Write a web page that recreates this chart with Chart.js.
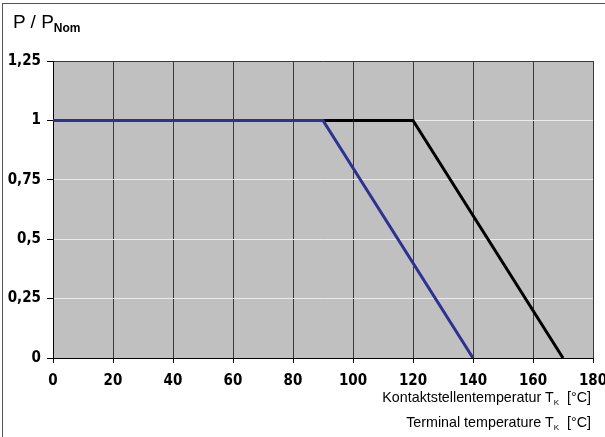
<!DOCTYPE html>
<html>
<head>
<meta charset="utf-8">
<script src="https://cdn.jsdelivr.net/npm/chart.js@4.4.0/dist/chart.umd.min.js"></script>
<style>
  html, body { margin: 0; padding: 0; background: #fff; }
  #wrap { position: relative; width: 605px; height: 437px; overflow: hidden; }
  #frame { position: absolute; left: 2px; top: 3px; width: 610px; height: 440px;
           border-top: 1px solid #555; border-left: 1px solid #555; box-sizing: border-box; }
  canvas { position: absolute; left: 0; top: 0; }
  .txt { position: absolute; font-family: "Liberation Sans", Arial, sans-serif; color: #000; white-space: nowrap; }
  #ytitle { left: 13px; top: 11px; font-size: 19px; }
  #ytitle sub { font-size: 12px; font-weight: bold; vertical-align: -4px; }
  .xtitle { right: 14px; font-size: 14.3px; }
  .xtitle sub { font-size: 8px; vertical-align: -3px; margin-right: 8px; }
  #xt1 { top: 389px; }
  #xt2 { top: 414px; }
</style>
</head>
<body>
<div id="wrap">
  <div id="frame"></div>
  <canvas id="chart" width="605" height="437"></canvas>
  <div class="txt" id="ytitle">P / P<sub>Nom</sub></div>
  <div class="txt xtitle" id="xt1">Kontaktstellentemperatur T<sub>K</sub>[°C]</div>
  <div class="txt xtitle" id="xt2">Terminal temperature T<sub>K</sub>[°C]</div>
</div>
<script>
  // derating curves: temperature (°C) vs. P / P_Nom
  const tempBlack = [0, 120, 170];
  const powerBlack = [1, 1, 0];
  const tempBlue = [0, 90, 140];
  const powerBlue = [1, 1, 0];

  const xTicks = [0, 20, 40, 60, 80, 100, 120, 140, 160, 180];
  const yTicks = [0, 0.25, 0.5, 0.75, 1, 1.25];
  const yTickLabels = ['0', '0,25', '0,5', '0,75', '1', '1,25'];

  const COLORS = {
    plotBg: '#c0c0c0',
    vGrid: '#3a3a3a',
    hGrid: '#ececec',
    blue: '#2e3190',
    black: '#000000',
  };

  const TICK_FONT = { family: '"DejaVu Sans Condensed", "Liberation Sans Narrow", Arial', size: 15, weight: 'bold' };

  const plotBackground = {
    id: 'plotBackground',
    beforeDraw(chart) {
      const { ctx, chartArea: a } = chart;
      ctx.save();
      ctx.fillStyle = COLORS.plotBg;
      ctx.fillRect(a.left, a.top, a.right - a.left, a.bottom - a.top);
      ctx.restore();
    },
  };

  function toPoints(xs, ys) {
    return xs.map((x, i) => ({ x: x, y: ys[i] }));
  }

  new Chart(document.getElementById('chart'), {
    type: 'line',
    data: {
      datasets: [
        {
          label: 'Terminal',
          data: toPoints(tempBlue, powerBlue),
          borderColor: COLORS.blue,
          borderWidth: 3,
          pointRadius: 0,
          tension: 0,
          order: 0,
        },
        {
          label: 'Contact',
          data: toPoints(tempBlack, powerBlack),
          borderColor: COLORS.black,
          borderWidth: 3,
          pointRadius: 0,
          tension: 0,
          order: 1,
        },
      ],
    },
    options: {
      responsive: false,
      animation: false,
      devicePixelRatio: 1,
      layout: { padding: { left: 0, right: 12, top: 61, bottom: 0 } },
      plugins: { legend: { display: false }, tooltip: { enabled: false } },
      scales: {
        x: {
          type: 'linear',
          min: 0,
          max: 180,
          afterBuildTicks: (axis) => { axis.ticks = xTicks.map((v) => ({ value: v })); },
          afterFit: (axis) => {
            axis.height = 79;
            axis.paddingLeft = 0;
            axis.paddingRight = 0;
          },
          border: { display: true, color: COLORS.black, width: 1 },
          grid: {
            color: (c) => (c.tick && c.tick.value === 0 ? COLORS.black : COLORS.vGrid),
            lineWidth: 1,
            tickLength: 5,
            tickColor: COLORS.black,
          },
          ticks: { color: '#000', font: TICK_FONT, padding: 9, maxRotation: 0 },
        },
        y: {
          type: 'linear',
          min: 0,
          max: 1.25,
          afterBuildTicks: (axis) => { axis.ticks = yTicks.map((v) => ({ value: v })); },
          afterFit: (axis) => {
            axis.width = 53;
            axis.paddingTop = 0;
            axis.paddingBottom = 0;
          },
          border: { display: true, color: COLORS.black, width: 1 },
          grid: {
            color: (c) => {
              if (!c.tick) return COLORS.hGrid;
              if (c.tick.value === 0) return COLORS.black;
              if (c.tick.value === 1.25) return COLORS.vGrid;
              return COLORS.hGrid;
            },
            lineWidth: 1,
            tickLength: 6,
            tickColor: COLORS.black,
          },
          ticks: {
            color: '#000',
            font: TICK_FONT,
            padding: 6,
            callback: (v) => yTickLabels[yTicks.indexOf(v)],
          },
        },
      },
    },
    plugins: [plotBackground],
  });
</script>
</body>
</html>
